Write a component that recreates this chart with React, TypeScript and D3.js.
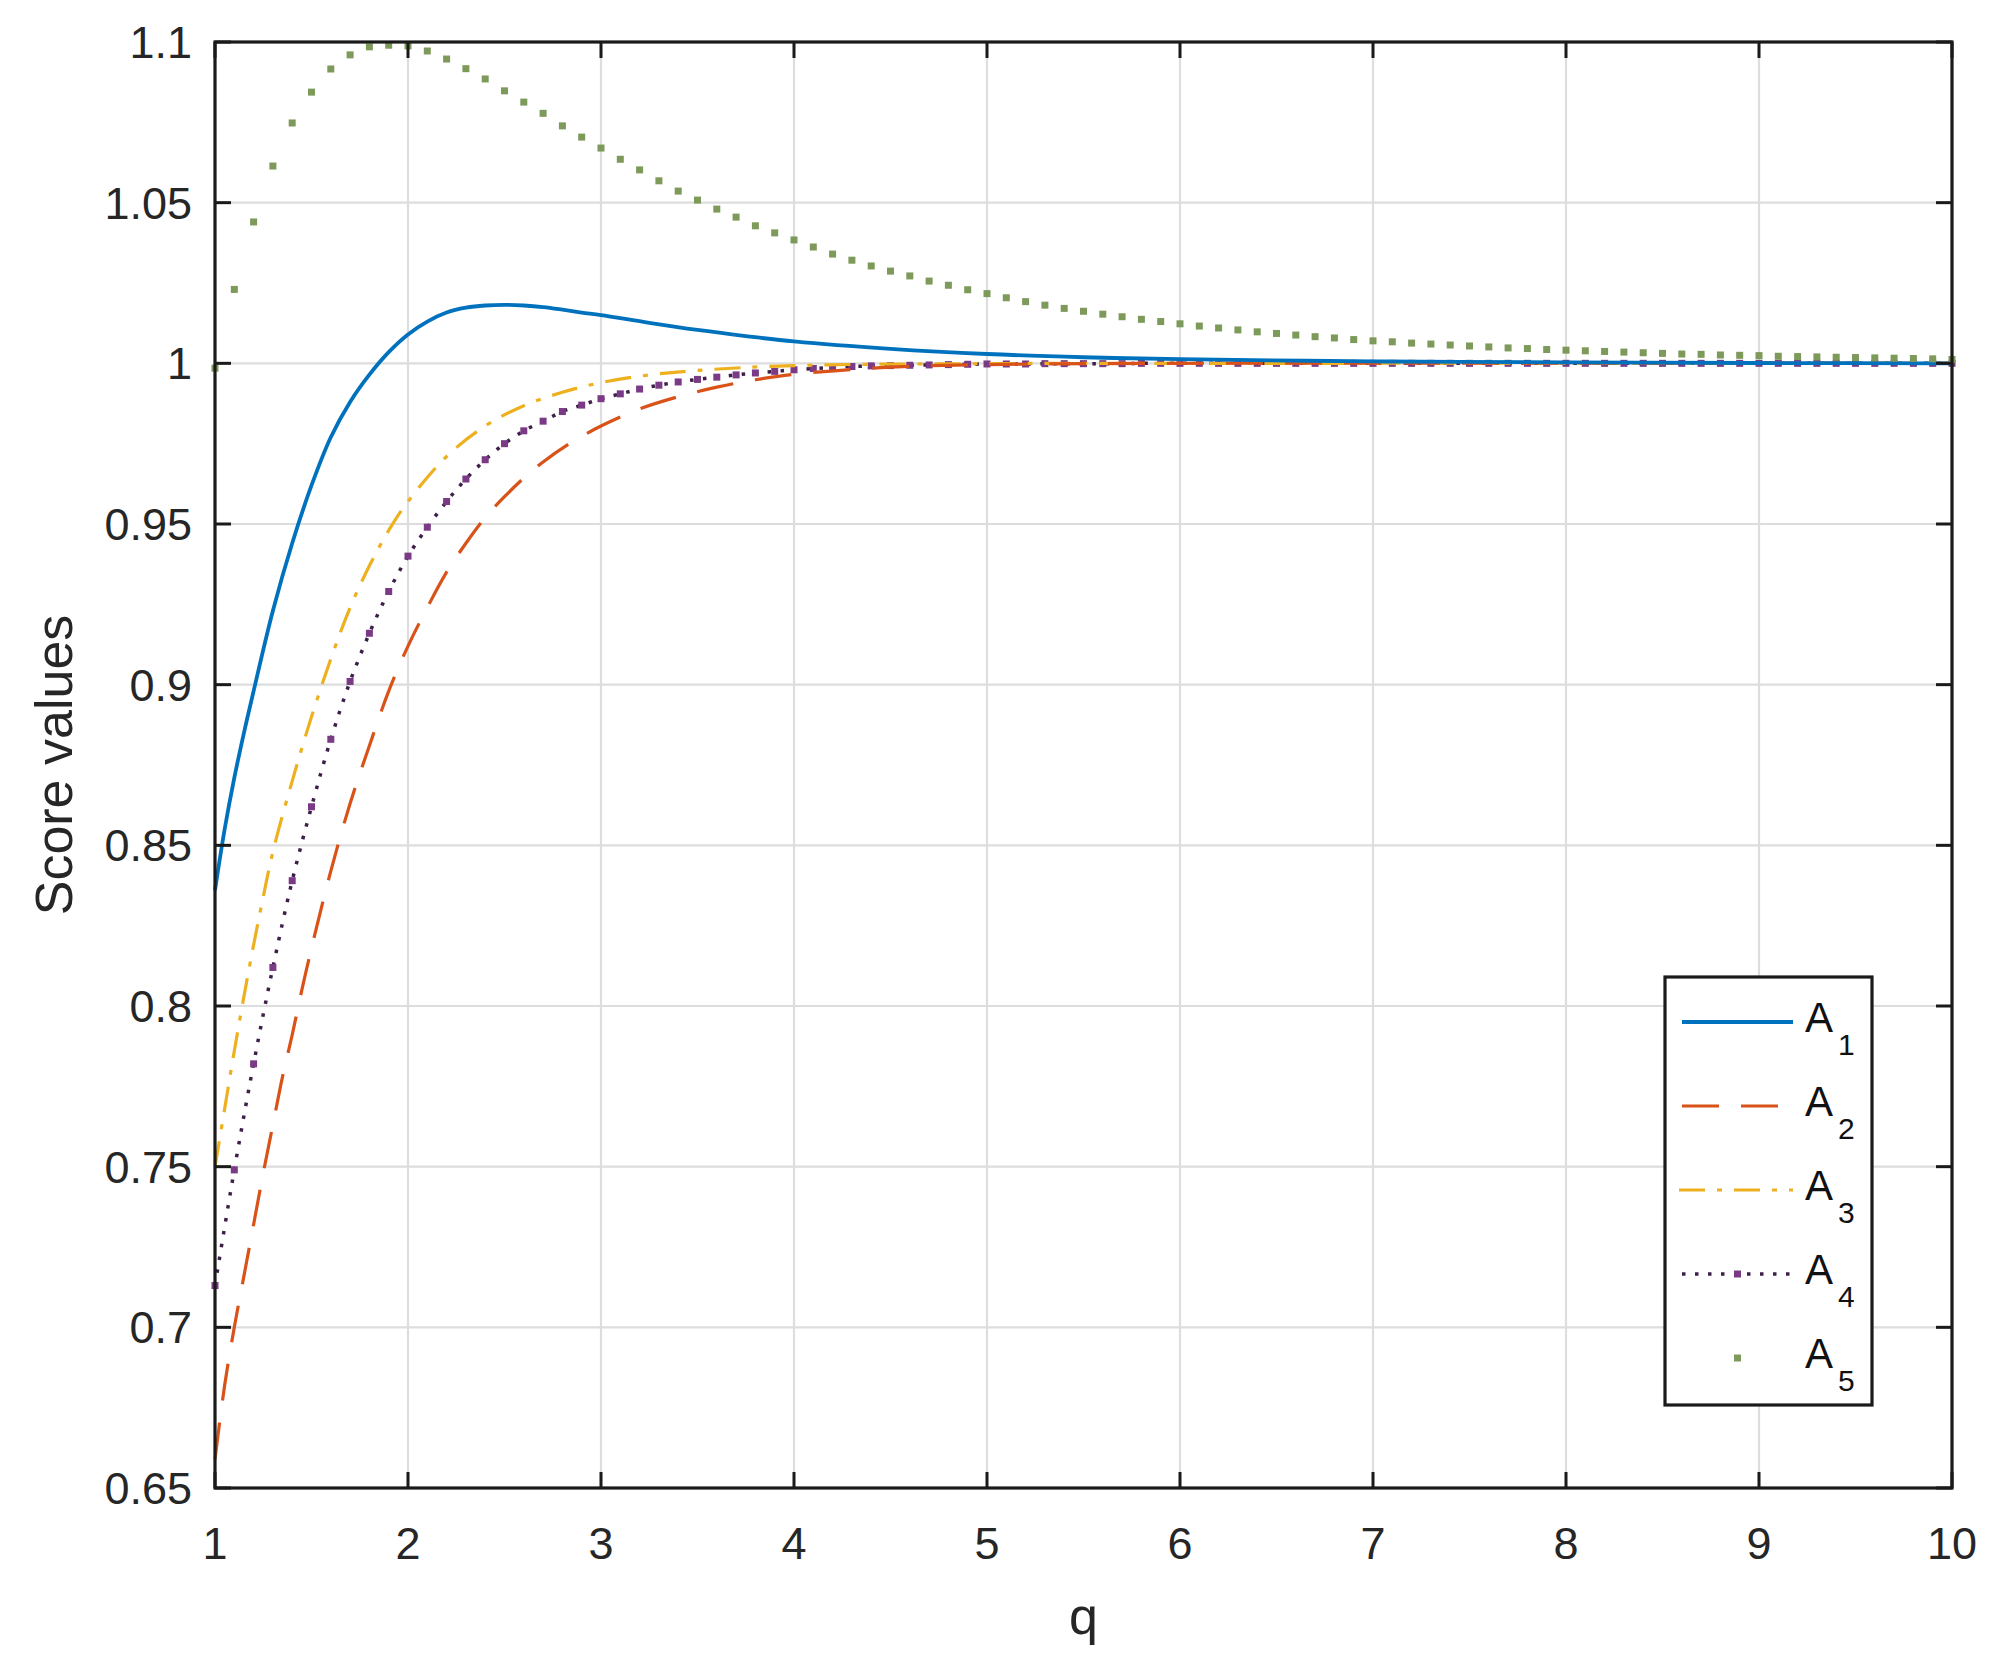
import React from "react";
import * as d3 from "d3";

// ---------- data ----------
const xTicks = [1, 2, 3, 4, 5, 6, 7, 8, 9, 10];
const yTicks = [0.65, 0.7, 0.75, 0.8, 0.85, 0.9, 0.95, 1, 1.05, 1.1];
const yTickLabels = ["0.65", "0.7", "0.75", "0.8", "0.85", "0.9", "0.95", "1", "1.05", "1.1"];

const a1Q = [1.0, 1.05, 1.1, 1.15, 1.2, 1.3, 1.4, 1.5, 1.6, 1.7, 1.8, 1.9, 2.0, 2.1, 2.2, 2.3, 2.4, 2.5, 2.6, 2.7, 2.8, 2.9, 3.0, 3.25, 3.5, 3.75, 4.0, 4.5, 5.0, 5.5, 6.0, 7.0, 8.0, 9.0, 10.0];
const a1V = [0.836, 0.855, 0.871, 0.885, 0.898, 0.923, 0.944, 0.962, 0.977, 0.988, 0.9965, 1.0035, 1.009, 1.013, 1.0158, 1.0173, 1.018, 1.0182, 1.018, 1.0175, 1.0167, 1.0158, 1.015, 1.0126, 1.0104, 1.0085, 1.0068, 1.0045, 1.0029, 1.0019, 1.0013, 1.0006, 1.0003, 1.0001, 1.0];

const a2Q = [1.0, 1.05, 1.1, 1.15, 1.2, 1.25, 1.3, 1.35, 1.4, 1.45, 1.5, 1.6, 1.7, 1.8, 1.9, 2.0, 2.1, 2.2, 2.3, 2.4, 2.5, 2.6, 2.7, 2.85, 3.0, 3.2, 3.4, 3.6, 3.8, 4.0, 4.5, 5.0, 6.0, 10.0];
const a2V = [0.659, 0.682, 0.700, 0.716, 0.732, 0.748, 0.763, 0.778, 0.791, 0.805, 0.818, 0.842, 0.863, 0.881, 0.898, 0.912, 0.924, 0.935, 0.944, 0.952, 0.9585, 0.9643, 0.9693, 0.9755, 0.9805, 0.9858, 0.9896, 0.9926, 0.9949, 0.9966, 0.9988, 0.9996, 1.0, 1.0];

const a3Q = [1.0, 1.05, 1.1, 1.15, 1.2, 1.25, 1.3, 1.4, 1.5, 1.6, 1.7, 1.8, 1.9, 2.0, 2.2, 2.4, 2.6, 2.8, 3.0, 3.25, 3.5, 4.0, 5.0, 6.0, 10.0];
const a3V = [0.75, 0.768, 0.786, 0.803, 0.819, 0.834, 0.848, 0.870, 0.890, 0.908, 0.924, 0.937, 0.948, 0.957, 0.971, 0.9805, 0.9868, 0.991, 0.994, 0.9964, 0.9978, 0.9993, 0.9999, 1.0, 1.0];

// A4 and A5 are sampled every 0.1 from q = 1 to q = 10
const sampleQ = d3.range(91).map((i) => Math.round((1 + i * 0.1) * 10) / 10);
const a4V = [
  0.713, 0.749, 0.782, 0.812, 0.839, 0.862, 0.883, 0.901, 0.916, 0.929,
  0.940, 0.949, 0.957, 0.964, 0.970, 0.975, 0.979, 0.982, 0.985, 0.987,
  0.989, 0.9905, 0.992, 0.9932, 0.9942, 0.995, 0.9957, 0.9964, 0.997, 0.9975,
  0.998, 0.9984, 0.9987, 0.999, 0.9992, 0.9993, 0.9994, 0.9995, 0.9996, 0.9997,
  0.9998, 0.9998, 0.9998, 0.9999, 0.9999, 0.9999, 0.9999, 0.9999, 1.0, 1.0,
  1.0, 1.0, 1.0, 1.0, 1.0, 1.0, 1.0, 1.0, 1.0, 1.0,
  1.0, 1.0, 1.0, 1.0, 1.0, 1.0, 1.0, 1.0, 1.0, 1.0,
  1.0, 1.0, 1.0, 1.0, 1.0, 1.0, 1.0, 1.0, 1.0, 1.0,
  1.0, 1.0, 1.0, 1.0, 1.0, 1.0, 1.0, 1.0, 1.0, 1.0,
  1.0,
];
const a5V = [
  0.9985, 1.023, 1.044, 1.0614, 1.0748, 1.0844, 1.0916, 1.096, 1.0985, 1.099,
  1.0988, 1.0972, 1.0947, 1.0917, 1.0885, 1.0848, 1.0813, 1.0778, 1.0739, 1.0704,
  1.067, 1.0635, 1.0602, 1.0568, 1.0536, 1.0508, 1.048, 1.0455, 1.0428, 1.0406,
  1.0384, 1.0362, 1.034, 1.0321, 1.0303, 1.0287, 1.0272, 1.0256, 1.0243, 1.0229,
  1.0217, 1.0204, 1.0192, 1.0181, 1.0171, 1.0162, 1.0153, 1.0145, 1.0137, 1.013,
  1.0123, 1.0116, 1.011, 1.0104, 1.0098, 1.0093, 1.0088, 1.0083, 1.0079, 1.0074,
  1.007, 1.0067, 1.0063, 1.006, 1.0057, 1.0054, 1.0051, 1.0048, 1.0046, 1.0043,
  1.0041, 1.0039, 1.0037, 1.0035, 1.0033, 1.0031, 1.0029, 1.0028, 1.0026, 1.0025,
  1.0024, 1.0022, 1.0021, 1.002, 1.0019, 1.0018, 1.0017, 1.0016, 1.0015, 1.0014,
  1.0012,
];

const seriesNames = ["A", "A", "A", "A", "A"];
const seriesSubs = ["1", "2", "3", "4", "5"];
const colors = ["#0072BD", "#D95319", "#EDB120", "#7E2F8E", "#77AC30"];

// ---------- layout ----------
const W = 2008;
const H = 1677;
const M = { left: 215, right: 1952, top: 42, bottom: 1488 };
const FONT = "'Liberation Sans', Arial, Helvetica, sans-serif";

export default function App() {
  const x = d3.scaleLinear().domain([1, 10]).range([M.left, M.right]);
  const y = d3.scaleLinear().domain([0.65, 1.1]).range([M.bottom, M.top]);

  const line = d3
    .line<[number, number]>()
    .x((d) => x(d[0]))
    .y((d) => y(d[1]))
    .curve(d3.curveCatmullRom.alpha(0.5));

  const zip = (qs: number[], vs: number[]) => qs.map((q, i) => [q, vs[i]] as [number, number]);
  const p1 = line(zip(a1Q, a1V)) || "";
  const p2 = line(zip(a2Q, a2V)) || "";
  const p3 = line(zip(a3Q, a3V)) || "";
  const p4 = line(zip(sampleQ, a4V)) || "";

  const tickLen = 16;
  const legend = { x0: 1665, y0: 977, x1: 1872, y1: 1405 };
  const legRows = [1022, 1106, 1190, 1274, 1358];
  const lx0 = 1682;
  const lx1 = 1793;
  const lmid = (lx0 + lx1) / 2;

  return (
    <svg
      width={W}
      height={H}
      style={{ position: "absolute", left: 0, top: 0, background: "#fff" }}
      fontFamily={FONT}
    >
      <rect x={0} y={0} width={W} height={H} fill="#fff" />
      <defs>
        <clipPath id="plotClip">
          <rect x={M.left - 4} y={M.top - 6} width={M.right - M.left + 10} height={M.bottom - M.top + 6} />
        </clipPath>
      </defs>

      {/* grid */}
      <g stroke="#dddddd" strokeWidth={2.2}>
        {xTicks.map((t) => (
          <line key={"gx" + t} x1={x(t)} x2={x(t)} y1={M.top} y2={M.bottom} />
        ))}
        {yTicks.map((t) => (
          <line key={"gy" + t} x1={M.left} x2={M.right} y1={y(t)} y2={y(t)} />
        ))}
      </g>

      {/* series */}
      <g clipPath="url(#plotClip)" fill="none" strokeLinejoin="round">
        <path d={p4} stroke="#3d1f4a" strokeWidth={3.5} strokeDasharray="3.5,9.5" />
        {sampleQ.map((q, i) => (
          <rect key={"m4" + i} x={x(q) - 3.5} y={y(a4V[i]) - 3.5} width={7} height={7} fill="#7a3a86" stroke="none" />
        ))}
        <path d={p3} stroke={colors[2]} strokeWidth={3.2} strokeDasharray="26,12,5,12" />
        <path d={p2} stroke={colors[1]} strokeWidth={3.2} strokeDasharray="37,22" />
        <path d={p1} stroke={colors[0]} strokeWidth={3.8} />
        {sampleQ.map((q, i) => (
          <rect key={"m5" + i} x={x(q) - 3.5} y={y(a5V[i]) - 3.5} width={7} height={7} fill="#7d9a5a" stroke="none" />
        ))}
      </g>

      {/* axes box */}
      <rect
        x={M.left}
        y={M.top}
        width={M.right - M.left}
        height={M.bottom - M.top}
        fill="none"
        stroke="#1a1a1a"
        strokeWidth={3.2}
      />
      {/* ticks */}
      <g stroke="#1a1a1a" strokeWidth={3}>
        {xTicks.map((t) => (
          <g key={"tx" + t}>
            <line x1={x(t)} x2={x(t)} y1={M.bottom} y2={M.bottom - tickLen} />
            <line x1={x(t)} x2={x(t)} y1={M.top} y2={M.top + tickLen} />
          </g>
        ))}
        {yTicks.map((t) => (
          <g key={"ty" + t}>
            <line x1={M.left} x2={M.left + tickLen} y1={y(t)} y2={y(t)} />
            <line x1={M.right} x2={M.right - tickLen} y1={y(t)} y2={y(t)} />
          </g>
        ))}
      </g>

      {/* tick labels */}
      <g fill="#262626" fontSize={45}>
        {xTicks.map((t) => (
          <text key={"lx" + t} x={x(t)} y={1559} textAnchor="middle">
            {String(t)}
          </text>
        ))}
        {yTicks.map((t, i) => (
          <text key={"ly" + t} x={192} y={y(t) + 16} textAnchor="end">
            {yTickLabels[i]}
          </text>
        ))}
      </g>

      {/* axis titles */}
      <text x={(M.left + M.right) / 2} y={1634} textAnchor="middle" fontSize={52} fill="#262626">
        q
      </text>
      <text
        transform={`translate(72, ${(M.top + M.bottom) / 2}) rotate(-90)`}
        textAnchor="middle"
        fontSize={52}
        fill="#262626"
      >
        Score values
      </text>

      {/* legend */}
      <rect
        x={legend.x0}
        y={legend.y0}
        width={legend.x1 - legend.x0}
        height={legend.y1 - legend.y0}
        fill="#fff"
        stroke="#1a1a1a"
        strokeWidth={3.2}
      />
      <g fill="none">
        <line x1={lx0} x2={lx1} y1={legRows[0]} y2={legRows[0]} stroke={colors[0]} strokeWidth={3.8} />
        <line x1={lx0} x2={lx1} y1={legRows[1]} y2={legRows[1]} stroke={colors[1]} strokeWidth={3.2} strokeDasharray="37,22" />
        <line x1={lx0 - 3} x2={lx1} y1={legRows[2]} y2={legRows[2]} stroke={colors[2]} strokeWidth={3.2} strokeDasharray="26,12,5,12" />
        <line x1={lx0} x2={lx1} y1={legRows[3]} y2={legRows[3]} stroke="#3d1f4a" strokeWidth={3.5} strokeDasharray="3.5,9.5" />
        <rect x={lmid - 3.5} y={legRows[3] - 3.5} width={7} height={7} fill="#7a3a86" />
        <rect x={lmid - 3.5} y={legRows[4] - 3.5} width={7} height={7} fill="#7d9a5a" />
      </g>
      <g fill="#111">
        {legRows.map((ry, i) => (
          <g key={"lg" + i}>
            <text x={1805} y={ry + 10} fontSize={42}>
              {seriesNames[i]}
            </text>
            <text x={1838} y={ry + 33} fontSize={30}>
              {seriesSubs[i]}
            </text>
          </g>
        ))}
      </g>
    </svg>
  );
}
